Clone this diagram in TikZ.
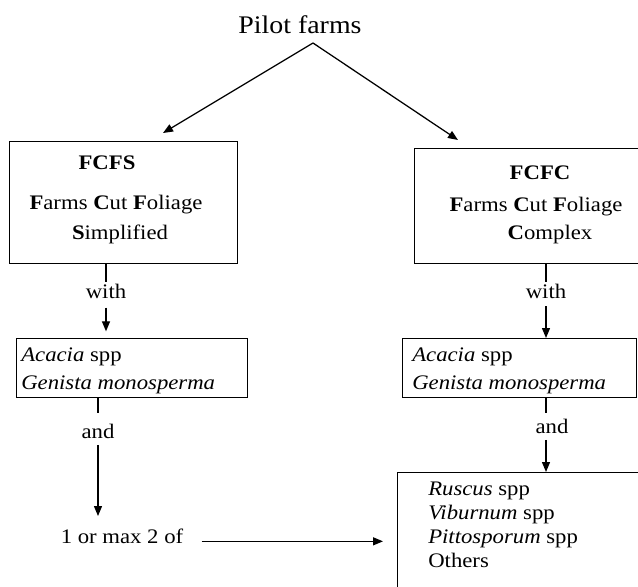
\documentclass[tikz,border=0pt]{standalone}
\usepackage{fontspec}
\setmainfont{Liberation Serif}[FakeStretch=1.1]
\usetikzlibrary{arrows.meta,calc}
\begin{document}
\begin{tikzpicture}[x=0.75pt,y=-0.75pt,
  box/.style={draw,line width=1.05pt,inner sep=0pt,anchor=north west},
  txt/.style={inner sep=1.5pt,font=\fontsize{15.5}{18}\selectfont},
  ttl/.style={inner sep=1.5pt,font=\fontsize{19}{22}\selectfont},
  ln/.style={line width=0.95pt},
  arr/.style={line width=0.95pt,-{Triangle[length=7.5pt,width=6pt]}}]
\useasboundingbox (0,0) rectangle (638,586);
% title
\node[ttl,anchor=base] (pilot) at (300,33) {Pilot farms};
\coordinate (apex) at (313,43);
% top boxes
\node[box,minimum width=228*0.75pt,minimum height=122*0.75pt] (fcfs) at (9,141) {};
\node[box,minimum width=250*0.75pt,minimum height=115*0.75pt] (fcfc) at (414,148) {};
\coordinate (tipL) at (163,133);
\coordinate (tipR) at (458,140);
\draw[arr] (apex) -- (tipL);
\draw[arr] (apex) -- (tipR);
\node[txt,anchor=base] (fcfsT) at (107,169.5) {\textbf{FCFS}};
\node[txt,anchor=base] (fcfsN) at (116,209.5) {\textbf{F}arms \textbf{C}ut \textbf{F}oliage};
\node[txt,anchor=base] (fcfsS) at (120,239.5) {\textbf{S}implified};
\node[txt,anchor=base] (fcfcT) at (540,179.5) {\textbf{FCFC}};
\node[txt,anchor=base] (fcfcN) at (536,211.5) {\textbf{F}arms \textbf{C}ut \textbf{F}oliage};
\node[txt,anchor=base] (fcfcS) at (550,239.5) {\textbf{C}omplex};
% with
\node[txt,anchor=base] (withL) at (106,298.5) {with};
\node[txt,anchor=base] (withR) at (546,298.5) {with};
% acacia boxes
\node[box,minimum width=231*0.75pt,minimum height=59*0.75pt] (acL) at (16,338) {};
\node[box,minimum width=234*0.75pt,minimum height=59*0.75pt] (acR) at (402,338) {};
\node[txt,anchor=base west] (acL1) at (19,361.5) {\textit{Acacia} spp};
\node[txt,anchor=base west] (acL2) at (19,389.5) {\textit{Genista monosperma}};
\node[txt,anchor=base west] (acR1) at (410,361.5) {\textit{Acacia} spp};
\node[txt,anchor=base west] (acR2) at (410,389.5) {\textit{Genista monosperma}};
\draw[ln] (fcfs.south -| withL.north) -- (withL.north);
\draw[ln] (fcfc.south -| withR.north) -- (withR.north);
\draw[arr,shorten >=5pt] ([yshift=-5pt]withL.south) -- (acL.north -| withL.south);
\draw[arr] ([yshift=-4pt]withR.south) -- (acR.north -| withR.south);
% and
\node[txt,anchor=base] (andL) at (98,438.5) {and};
\coordinate (cR) at (546,0);
\node[txt,anchor=base] (andR) at (552,433.5) {and};
\node[txt,anchor=base] (oneor) at (122,543.5) {1 or max 2 of};
\node[box,minimum width=260*0.75pt,minimum height=130*0.75pt] (lowR) at (397,472) {};
\draw[ln,shorten >=7pt] (acL.south -| andL.north) -- (andL.north);
\draw[arr,shorten <=3pt,shorten >=8pt] (andL.south) -- (oneor.north -| andL.south);
\draw[ln,shorten >=3pt] (acR.south -| cR) -- (andR.north -| cR);
\draw[arr,shorten <=3pt] (andR.south -| cR) -- (lowR.north -| cR);
\coordinate (arrS) at ($(oneor.east)+(16,5)$);
\draw[arr,shorten >=10.5pt] (arrS) -- (arrS -| lowR.west);
% lower list
\node[txt,anchor=base west] (r1) at (426,495.5) {\textit{Ruscus} spp};
\node[txt,anchor=base west] (r2) at (426,519.5) {\textit{Viburnum} spp};
\node[txt,anchor=base west] (r3) at (426,543.5) {\textit{Pittosporum} spp};
\node[txt,anchor=base west] (r4) at (426,567.5) {Others};
\end{tikzpicture}
\end{document}
